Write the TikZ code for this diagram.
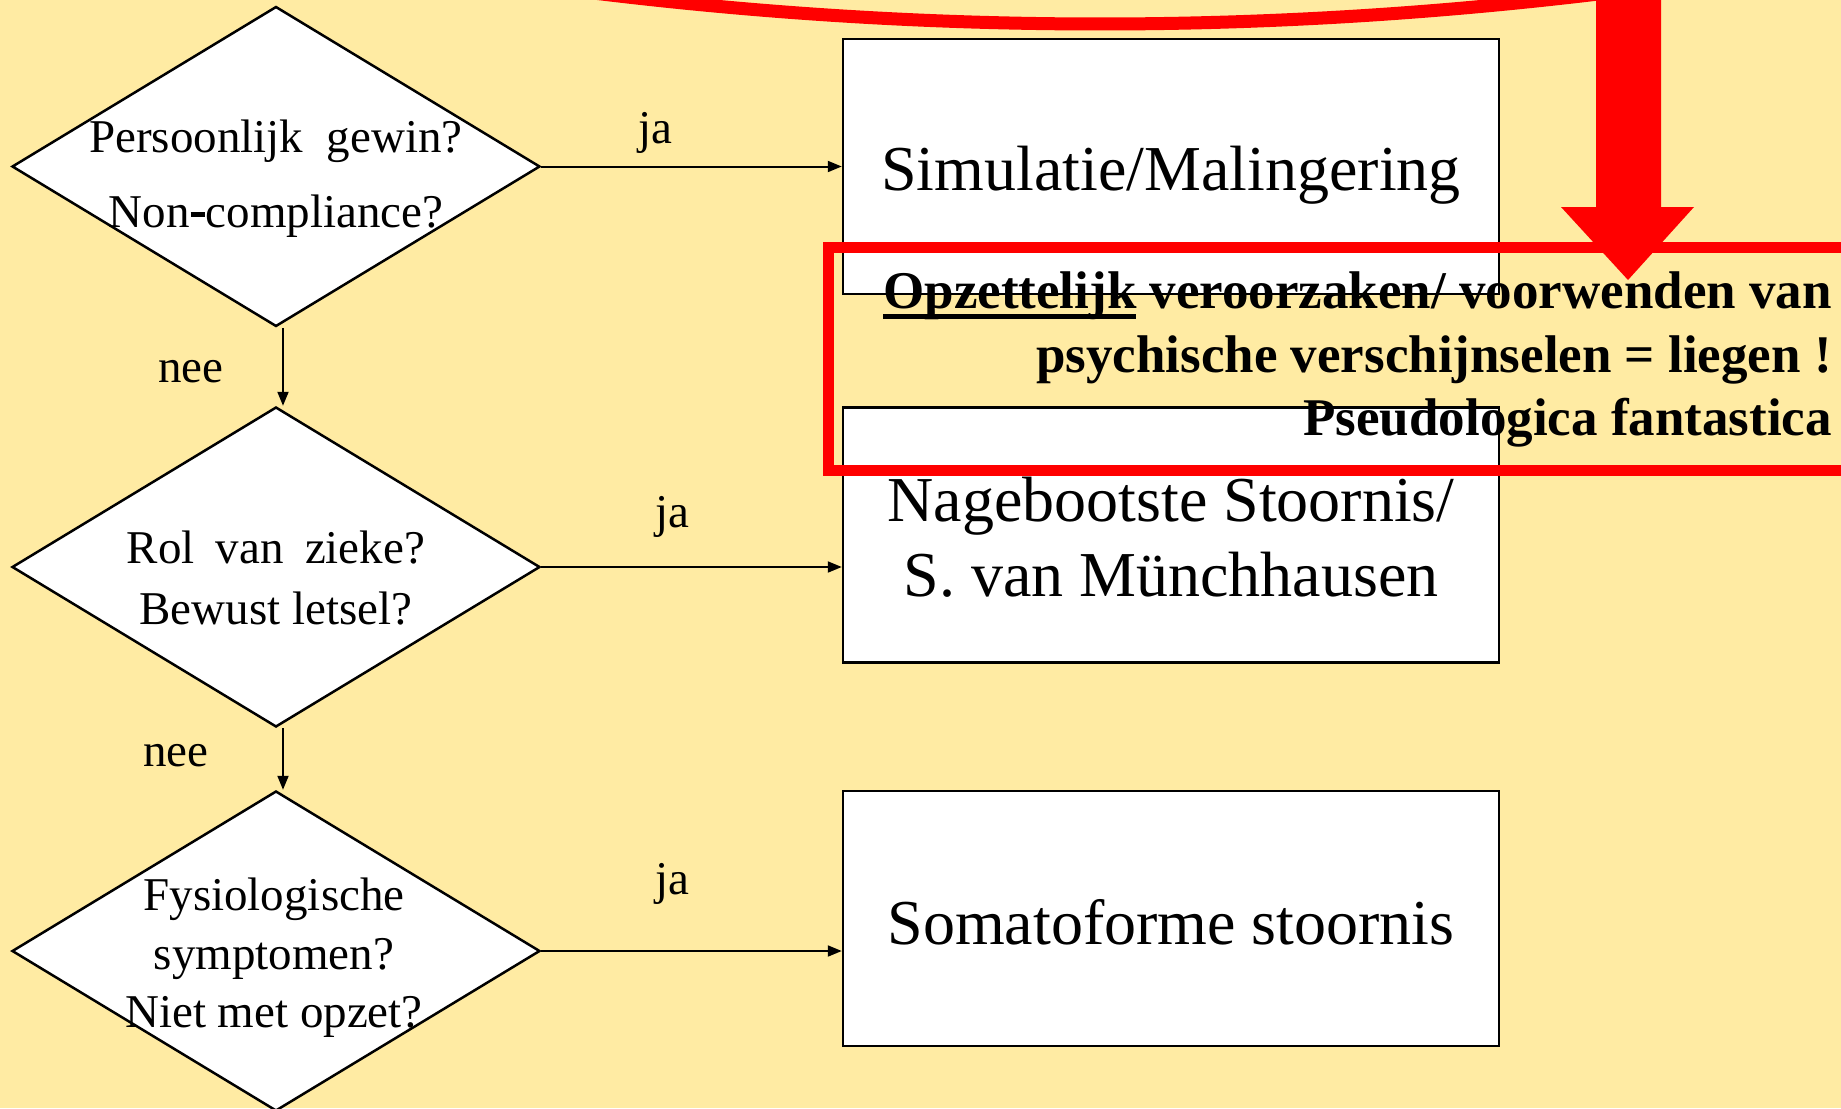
\documentclass[tikz,border=0pt]{standalone}
\usepackage{fontspec}
\setmainfont{Liberation Serif}
\usetikzlibrary{shapes.geometric,arrows.meta}
\definecolor{bgc}{RGB}{255,235,163}
\definecolor{redc}{RGB}{255,0,0}
\newcommand\ulword[1]{\setbox0=\hbox{#1}\rlap{\rule[-10.5pt]{\wd0}{5pt}}\box0\relax}
\begin{document}
\begin{tikzpicture}[x=1pt,y=-1pt,
  dia/.style={diamond,draw=black,fill=white,line width=2.5pt,minimum width=528pt,minimum height=320pt,inner sep=0pt},
  box/.style={draw=black,fill=white,line width=2.5pt,minimum width=656pt,minimum height=255pt,inner sep=0pt},
  btext/.style={align=center,inner sep=0pt,font=\fontsize{64}{75}\selectfont},
  dtext/.style={align=center,inner sep=0pt},
  lbl/.style={inner sep=0pt,font=\fontsize{47}{56}\selectfont},
  conn/.style={line width=2pt,-{Triangle[length=14pt,width=11pt]}},
  redtext/.style={inner sep=0pt,anchor=base east,font=\fontsize{53}{64}\selectfont\bfseries}
]
\useasboundingbox (0,0) rectangle (1841,1108);
\clip (0,0) rectangle (1841,1108);
\fill[bgc] (0,0) rectangle (1841,1108);

% red curved arc at top
\draw[redc,line width=13pt] (510,-18) .. controls (905,38) and (1295,38) .. (1690,-18);

% boxes
\node[box] (b1) at (1171,166.5) {};
\node[box] (b2) at (1171,535) {};
\node[box] (b3) at (1171,918.5) {};
\node[btext] (s1) at (1171,175) {Simulatie/Malingering};
\node[btext] (s2) at (1171,537) {Nagebootste Stoornis/\\S. van Münchhausen};
\node[btext] (s3) at (1171,922) {Somatoforme stoornis};

% diamonds
\node[dia] (d1) at (276,166.5) {};
\node[dia] (d2) at (276,567) {};
\node[dia] (d3) at (276,951) {};

\node[dtext,font=\fontsize{47}{75}\selectfont] (q1) at (276,179) {Persoonlijk\ \ gewin?\\Non{\hspace{0.02em}\rule[0.24em]{0.3em}{0.09em}\hspace{0.02em}}compliance?};
\node[dtext,font=\fontsize{47}{61}\selectfont] (q2) at (276,578) {Rol\hspace{0.45em}van\hspace{0.45em}zieke?\\Bewust letsel?};
\node[dtext,font=\fontsize{47}{58.5}\selectfont] (q3) at (274,958) {Fysiologische\hspace{0.2em}\\symptomen?\\Niet met opzet?};

% connectors
\draw[conn] (d1.east) -- (d1.east -| b1.west);
\draw[conn] (d2.east) -- (d2.east -| b2.west);
\draw[conn] (d3.east) -- (d3.east -| b3.west);
\draw[conn] ([xshift=7pt]d1.south) -- ([xshift=7pt]d2.north);
\draw[conn] ([xshift=7pt]d2.south) -- ([xshift=7pt]d3.north);

% labels
\node[lbl] (ja1) at (655,133) {ja};
\node[lbl] (ja2) at (672,517) {ja};
\node[lbl] (ja3) at (672,884) {ja};
\node[lbl] (nee1) at (191,372) {nee};
\node[lbl] (nee2) at (176,756) {nee};

% red frame and note
\node[draw=redc,line width=11pt,minimum width=1100pt,minimum height=222.5pt,inner sep=0pt,outer sep=0pt,anchor=north west] (frame) at (828,247.5) {};
\node[redtext] (t1) at (1832,308) {\ulword{Opzettelijk} veroorzaken/ voorwenden van};
\node[redtext] (t2) at (1832,372) {psychische verschijnselen = liegen !};
\node[redtext] (t3) at (1832,435) {Pseudologica fantastica};

% red down arrow
\fill[redc] (1596,-5) -- (1596,207) -- (1561,207) -- (1628,280) -- (1694,207) -- (1661,207) -- (1661,-5) -- cycle;
\end{tikzpicture}
\end{document}
